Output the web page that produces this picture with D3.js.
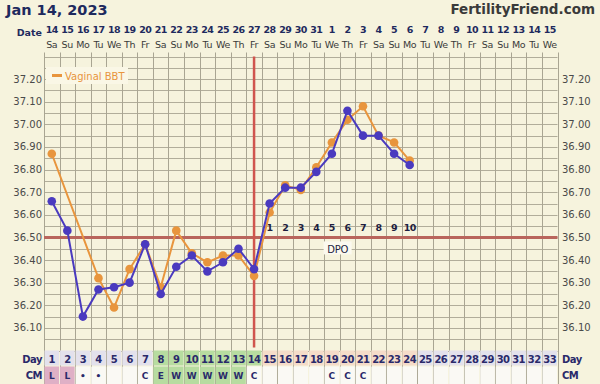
<!DOCTYPE html>
<html><head><meta charset="utf-8">
<script src="https://cdn.jsdelivr.net/npm/d3@7"></script>
<style>
html,body{margin:0;padding:0;background:#f6f3dd;}
svg{display:block;}
text{font-family:"DejaVu Sans",Verdana,sans-serif;}
</style></head>
<body>
<script>
// ---- data ----
const title = "Jan 14, 2023";
const site = "FertilityFriend.com";
const cycleDays = [1,2,3,4,5,6,7,8,9,10,11,12,13,14,15,16,17,18,19,20,21,22,23,24,25,26,27,28,29,30,31,32,33];
const dateLabels = ["14","15","16","17","18","19","20","21","22","23","24","25","26","27","28","29","30","31","1","2","3","4","5","6","7","8","9","10","11","12","13","14","15"];
const weekdayLabels = ["Sa","Su","Mo","Tu","We","Th","Fr","Sa","Su","Mo","Tu","We","Th","Fr","Sa","Su","Mo","Tu","We","Th","Fr","Sa","Su","Mo","Tu","We","Th","Fr","Sa","Su","Mo","Tu","We"];
const tempTicks = [36.10,36.20,36.30,36.40,36.50,36.60,36.70,36.80,36.90,37.00,37.10,37.20];
const bbtPurple = [36.66,36.53,36.15,36.27,36.28,36.30,36.47,36.25,36.37,36.42,36.35,36.39,36.45,36.36,36.65,36.72,36.72,36.79,36.87,37.06,36.95,36.95,36.87,36.82];
const bbtVaginal = [36.87,null,null,36.32,36.19,36.36,36.47,36.28,36.53,36.43,36.39,36.42,36.42,36.33,36.61,36.73,36.71,36.81,36.92,37.02,37.08,36.95,36.92,36.84];
const cmLabels = ["L","L","•","•","","","C","E","W","W","W","W","W","C","","","","","C","C","C","","","","","","","","","","","",""];
const dayPhase = ["a","a","a","a","a","a","a","f","f","f","f","f","f","f","l","l","l","l","l","l","l","l","l","l","a","a","a","a","a","a","a","a","a"];
const ovulationDay = 14;
const coverline = 36.50;
const dpoLabels = ["1","2","3","4","5","6","7","8","9","10"];
const legendLabel = "Vaginal BBT";

// ---- layout ----
const W = 600, H = 384;
const pLeft = 44, pRight = 557.5, pTop = 56.5, pBottom = 350.5;
const svg = d3.select("body").append("svg").attr("width", W).attr("height", H);
svg.append("rect").attr("width", W).attr("height", H).attr("fill", "#f6f3dd");

const x = d3.scaleLinear().domain([0.5, 33.5]).range([pLeft, pRight]);
const y = d3.scaleLinear().domain([36.0, 37.3]).range([pBottom, pTop]);
const colW = x(2) - x(1);
const condensed = '"DejaVu Sans Condensed","DejaVu Sans",sans-serif';

// header
svg.append("text").attr("x", 6).attr("y", 15).text(title).attr("font-family", condensed)
  .attr("font-size", 14.5).attr("font-weight", "bold").attr("fill", "#1e2a5e");
svg.append("text").attr("x", 595).attr("y", 14).attr("text-anchor", "end").text(site).attr("font-family", condensed)
  .attr("font-size", 13.5).attr("font-weight", "bold").attr("fill", "#3a3a3a");

// date rows
svg.append("text").attr("x", 42).attr("y", 36).attr("text-anchor", "end").text("Date")
  .attr("font-size", 9.5).attr("font-weight", "bold").attr("fill", "#1e2a5e");
svg.append("g").selectAll("text").data(dateLabels).join("text")
  .attr("x", (d, i) => x(cycleDays[i])).attr("y", 33).attr("text-anchor", "middle")
  .attr("font-size", 9.5).attr("font-weight", "bold").attr("fill", "#1e2a5e")
  .attr("letter-spacing", -0.6).text(d => d);
svg.append("g").selectAll("text").data(weekdayLabels).join("text")
  .attr("x", (d, i) => x(cycleDays[i])).attr("y", 48).attr("text-anchor", "middle")
  .attr("font-size", 9.5).attr("fill", "#3a3a3a").attr("letter-spacing", -0.3).text(d => d);

// grid
const grid = svg.append("g");
const hLines = d3.range(0, 27).map(i => 36.0 + i * 0.05);
grid.selectAll("line.h").data(hLines).join("line")
  .attr("x1", pLeft).attr("x2", pRight)
  .attr("y1", d => Math.round(y(d)) + 0.5).attr("y2", d => Math.round(y(d)) + 0.5)
  .attr("stroke", "#b1ad9a").attr("stroke-width", 1);
grid.selectAll("line.v").data(d3.range(0, 34)).join("line")
  .attr("x1", i => Math.round(x(i + 0.5)) + 0.5).attr("x2", i => Math.round(x(i + 0.5)) + 0.5)
  .attr("y1", pTop - 4).attr("y2", H)
  .attr("stroke", "#a9a592").attr("stroke-width", 1);

// temp labels
const tl = svg.append("g").attr("font-size", 10).attr("fill", "#4a4a4a");
tl.selectAll("text.l").data(tempTicks).join("text")
  .attr("x", 42).attr("y", d => y(d) + 3.5).attr("text-anchor", "end").text(d => d.toFixed(2));
const tr = svg.append("g").attr("font-size", 10).attr("fill", "#4a4a4a");
tr.selectAll("text").data(tempTicks).join("text")
  .attr("x", 562).attr("y", d => y(d) + 3.5).text(d => d.toFixed(2));

// day row / CM row
const rowTop = pBottom, rowH = 16;
const phaseFill = {a: "#e3e1ec", f: "#b7dca0", l: "#f5dcc9"};
svg.append("g").selectAll("rect").data(cycleDays).join("rect")
  .attr("x", d => x(d - 0.5) + 0.5).attr("y", rowTop).attr("width", colW - 1).attr("height", rowH - 1)
  .attr("fill", (d, i) => phaseFill[dayPhase[i]]);
const cmFill = c => c === "L" ? "#dfb0c6" : (c === "E" || c === "W") ? "#b7dca0" : "#faf9f4";
svg.append("g").selectAll("rect").data(cycleDays).join("rect")
  .attr("x", d => x(d - 0.5) + 0.5).attr("y", rowTop + rowH).attr("width", colW - 1).attr("height", rowH + 2)
  .attr("fill", (d, i) => cmFill(cmLabels[i]));
svg.append("g").selectAll("text").data(cycleDays).join("text")
  .attr("x", d => x(d)).attr("y", rowTop + 12).attr("text-anchor", "middle")
  .attr("font-size", 10).attr("font-weight", "bold").attr("fill", "#2a2a6a").attr("letter-spacing", -0.6)
  .text(d => d);
svg.append("g").selectAll("text").data(cycleDays).join("text")
  .attr("x", d => x(d)).attr("y", rowTop + rowH + 12).attr("text-anchor", "middle")
  .attr("font-size", 9).attr("font-weight", "bold").attr("fill", "#2a2a6a")
  .text((d, i) => cmLabels[i]);
[["Day", rowTop + 12], ["CM", rowTop + rowH + 12]].forEach(([t, yy]) => {
  svg.append("text").attr("x", 42).attr("y", yy).attr("text-anchor", "end").text(t)
    .attr("font-size", 10).attr("font-weight", "bold").attr("fill", "#2a2a6a").attr("letter-spacing", -0.5);
  svg.append("text").attr("x", 562).attr("y", yy).text(t)
    .attr("font-size", 10).attr("font-weight", "bold").attr("fill", "#2a2a6a").attr("letter-spacing", -0.5);
});

// coverline & ovulation line
svg.append("line").attr("x1", pLeft).attr("x2", pRight).attr("y1", y(coverline)).attr("y2", y(coverline))
  .attr("stroke", "#b9655c").attr("stroke-width", 3);
svg.append("line").attr("x1", x(ovulationDay)).attr("x2", x(ovulationDay)).attr("y1", pTop).attr("y2", pBottom - 3)
  .attr("stroke", "#d0554e").attr("stroke-width", 2.5);

// DPO
svg.append("g").selectAll("text").data(dpoLabels).join("text")
  .attr("x", (d, i) => x(ovulationDay + 1 + i)).attr("y", y(coverline) - 6).attr("text-anchor", "middle")
  .attr("font-size", 9.5).attr("font-weight", "bold").attr("fill", "#1e1e40").attr("letter-spacing", -0.6)
  .text(d => d);
const dpoX = x(19.5) - 2, dpoY = y(coverline) + 12;
svg.append("rect").attr("x", dpoX - 14).attr("y", dpoY - 8).attr("width", 28).attr("height", 13).attr("fill", "#fbf9ef");
svg.append("text").attr("x", dpoX).attr("y", dpoY + 3.5).attr("text-anchor", "middle").text("DPO")
  .attr("font-size", 10).attr("fill", "#1e1e40").attr("letter-spacing", -0.3);

// series
const line = d3.line().x(d => x(d.day)).y(d => y(d.t));
const vag = bbtVaginal.map((t, i) => ({day: cycleDays[i], t})).filter(d => d.t !== null);
const pur = bbtPurple.map((t, i) => ({day: cycleDays[i], t}));
const orange = "#e8953d", purple = "#4a3abf";
svg.append("path").datum(vag).attr("d", line).attr("fill", "none").attr("stroke", orange).attr("stroke-width", 2);
svg.append("g").selectAll("circle").data(vag).join("circle")
  .attr("cx", d => x(d.day)).attr("cy", d => y(d.t)).attr("r", 4.3).attr("fill", orange);
svg.append("path").datum(pur).attr("d", line).attr("fill", "none").attr("stroke", purple).attr("stroke-width", 2);
svg.append("g").selectAll("circle").data(pur).join("circle")
  .attr("cx", d => x(d.day)).attr("cy", d => y(d.t)).attr("r", 4.3).attr("fill", purple);

// legend
svg.append("rect").attr("x", 46).attr("y", 67).attr("width", 82).attr("height", 17).attr("fill", "#faf7e6");
svg.append("line").attr("x1", 52).attr("x2", 62).attr("y1", 75.5).attr("y2", 75.5).attr("stroke", orange).attr("stroke-width", 3);
svg.append("text").attr("x", 65).attr("y", 79.5).text(legendLabel).attr("font-size", 10).attr("fill", orange);
</script>
</body></html>
